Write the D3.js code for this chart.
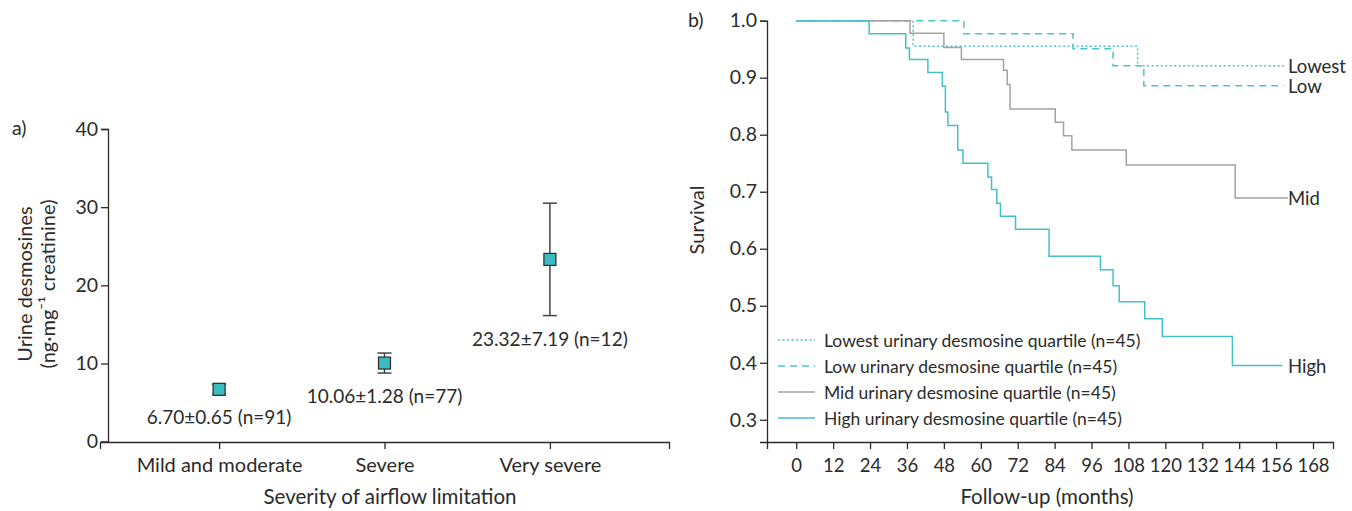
<!DOCTYPE html>
<html>
<head>
<meta charset="utf-8">
<script src="https://cdn.jsdelivr.net/npm/d3@7"></script>
<style>
body { margin: 0; background: #fff; }
svg { display: block; }
text { font-family: Lato, "Noto Sans", sans-serif; fill: #2b2b2b; }
.axis path, .axis line { stroke: #2b2b2b; stroke-width: 1.3; }
.axis text { font-size: 18.5px; fill: #2b2b2b; font-family: Lato, "Noto Sans", sans-serif; }
</style>
</head>
<body>
<svg id="chart" width="1352" height="511"></svg>
<script>
// panel a data
var categories = ["Mild and moderate", "Severe", "Very severe"];
var means = [6.70, 10.06, 23.32];
var errors = [0.65, 1.28, 7.19];
var counts = [91, 77, 12];
var aTicks = [0, 10, 20, 30, 40];

// panel b data (Kaplan-Meier steps, months / survival)
var lowestTime = [0, 38, 111, 158.5];
var lowestSurv = [1.0, 0.955, 0.921, 0.921];
var lowTime = [0, 54.5, 90, 103, 113, 158.5];
var lowSurv = [1.0, 0.977, 0.951, 0.921, 0.886, 0.886];
var midTime = [0, 37, 48, 53.7, 67.4, 68.6, 69.5, 84.2, 86.9, 89.6, 107.3, 142.7, 159.8];
var midSurv = [1.0, 0.978, 0.953, 0.932, 0.913, 0.888, 0.845, 0.822, 0.798, 0.773, 0.747, 0.689, 0.689];
var highTime = [0, 23.7, 35.6, 36.8, 42.8, 47.5, 48.5, 49.3, 52.5, 54.2, 62.3, 63.5, 65.2, 66.4, 71.3, 82.2, 98.9, 103, 105, 113.3, 119, 141.8, 158];
var highSurv = [1.0, 0.977, 0.952, 0.932, 0.909, 0.885, 0.840, 0.816, 0.773, 0.750, 0.726, 0.704, 0.680, 0.657, 0.634, 0.587, 0.563, 0.535, 0.507, 0.477, 0.446, 0.395, 0.395];
var monthTicks = [0, 12, 24, 36, 48, 60, 72, 84, 96, 108, 120, 132, 144, 156, 168];
var survTicks = [0.3, 0.4, 0.5, 0.6, 0.7, 0.8, 0.9, 1.0];

var groups = [
	{name: "Lowest", legend: "Lowest urinary desmosine quartile (n=45)", time: lowestTime, surv: lowestSurv, color: "#4cc4cb", dash: "2,2.5"},
	{name: "Low", legend: "Low urinary desmosine quartile (n=45)", time: lowTime, surv: lowSurv, color: "#4cc4cb", dash: "7,5"},
	{name: "Mid", legend: "Mid urinary desmosine quartile (n=45)", time: midTime, surv: midSurv, color: "#a3a3a3", dash: null},
	{name: "High", legend: "High urinary desmosine quartile (n=45)", time: highTime, surv: highSurv, color: "#45c0c7", dash: null}
];

var svg = d3.select("#chart");

//---------- panel a ----------
var xa = d3.scalePoint().domain(categories).range([100, 669]).padding(0.72);
var ya = d3.scaleLinear().domain([0, 40]).range([441.7, 129]);

svg.append("g")
	.attr("class", "axis")
	.attr("transform", "translate(0,442)")
	.call(d3.axisBottom(xa).tickSizeOuter(0).tickSize(7).tickPadding(5))
	.selectAll("text").attr("dy", "0.9em").style("font-size", "20px");

svg.append("g")
	.attr("class", "axis")
	.attr("transform", "translate(108,0)")
	.call(d3.axisLeft(ya).tickValues(aTicks).tickSizeOuter(0).tickSize(7).tickPadding(3))
	.selectAll("text").style("font-size", "19.5px");

var pts = svg.append("g");
categories.forEach(function(c, i) {
	var cx = xa(c);
	var top = ya(means[i] + errors[i]);
	var bot = ya(means[i] - errors[i]);
	//error bar
	pts.append("line").attr("x1", cx).attr("x2", cx).attr("y1", top).attr("y2", bot)
		.attr("stroke", "#444").attr("stroke-width", 1.5);
	[top, bot].forEach(function(yy) {
		pts.append("line").attr("x1", cx - 7).attr("x2", cx + 7).attr("y1", yy).attr("y2", yy)
			.attr("stroke", "#444").attr("stroke-width", 1.5);
	});
	//marker
	pts.append("rect")
		.attr("x", cx - 6).attr("y", ya(means[i]) - 6)
		.attr("width", 12).attr("height", 12)
		.attr("fill", "#3bbcc2").attr("stroke", "#2b2b2b").attr("stroke-width", 1.2);
	pts.append("text")
		.attr("x", cx).attr("y", bot + 30)
		.attr("text-anchor", "middle").attr("font-size", 19)
		.text(means[i].toFixed(2) + "\u00b1" + errors[i].toFixed(2) + " (n=" + counts[i] + ")");
});

svg.append("text").attr("x", 12).attr("y", 135).attr("font-size", 19.5).text("a)");

svg.append("text")
	.attr("transform", "translate(32,284) rotate(-90)")
	.attr("text-anchor", "middle").attr("font-size", 20)
	.text("Urine desmosines");
svg.append("text")
	.attr("transform", "translate(55,284) rotate(-90)")
	.attr("text-anchor", "middle").attr("font-size", 20)
	.text("(ng\u00b7mg\u207b\u00b9 creatinine)");

svg.append("text")
	.attr("x", 390).attr("y", 504)
	.attr("text-anchor", "middle").attr("font-size", 20.5)
	.text("Severity of airflow limitation");

//---------- panel b ----------
var xb = d3.scaleLinear().domain([-9.5, 174.5]).range([767, 1333]);
var yb = d3.scaleLinear().domain([0.261, 1.0]).range([442, 20.7]);

svg.append("g")
	.attr("class", "axis")
	.attr("transform", "translate(0,442)")
	.call(d3.axisBottom(xb).tickValues(monthTicks).tickSizeOuter(0).tickSize(7).tickPadding(5))
	.selectAll("text").attr("dy", "0.95em");

svg.append("g")
	.attr("class", "axis")
	.attr("transform", "translate(767,0)")
	.call(d3.axisLeft(yb).tickValues(survTicks).tickFormat(d3.format(".1f")).tickSizeOuter(0).tickSize(7).tickPadding(3))
	.selectAll("text").style("font-size", "19.5px");

var line = d3.line()
	.x(function(d) { return xb(d[0]); })
	.y(function(d) { return yb(d[1]); })
	.curve(d3.curveStepAfter);

groups.forEach(function(g) {
	var pairs = g.time.map(function(t, i) { return [t, g.surv[i]]; });
	svg.append("path")
		.attr("d", line(pairs))
		.attr("fill", "none")
		.attr("stroke", g.color)
		.attr("stroke-width", 1.5)
		.attr("stroke-dasharray", g.dash);
	var last = pairs[pairs.length - 1];
	svg.append("text")
		.attr("x", 1288).attr("y", yb(last[1]))
		.attr("dominant-baseline", "central").attr("font-size", 18.5)
		.text(g.name);
});

//legend
var leg = svg.append("g");
groups.forEach(function(g, i) {
	var yy = 340 + i * 26;
	leg.append("line").attr("x1", 778).attr("x2", 815).attr("y1", yy).attr("y2", yy)
		.attr("stroke", g.color).attr("stroke-width", 1.5).attr("stroke-dasharray", g.dash);
	leg.append("text").attr("x", 824).attr("y", yy)
		.attr("dominant-baseline", "central").attr("font-size", 17.5)
		.text(g.legend);
});

svg.append("text").attr("x", 688).attr("y", 27).attr("font-size", 19.5).text("b)");

svg.append("text")
	.attr("transform", "translate(704,220) rotate(-90)")
	.attr("text-anchor", "middle").attr("font-size", 20)
	.text("Survival");

svg.append("text")
	.attr("x", 1047).attr("y", 504)
	.attr("text-anchor", "middle").attr("font-size", 20.5)
	.text("Follow-up (months)");
</script>
</body>
</html>
